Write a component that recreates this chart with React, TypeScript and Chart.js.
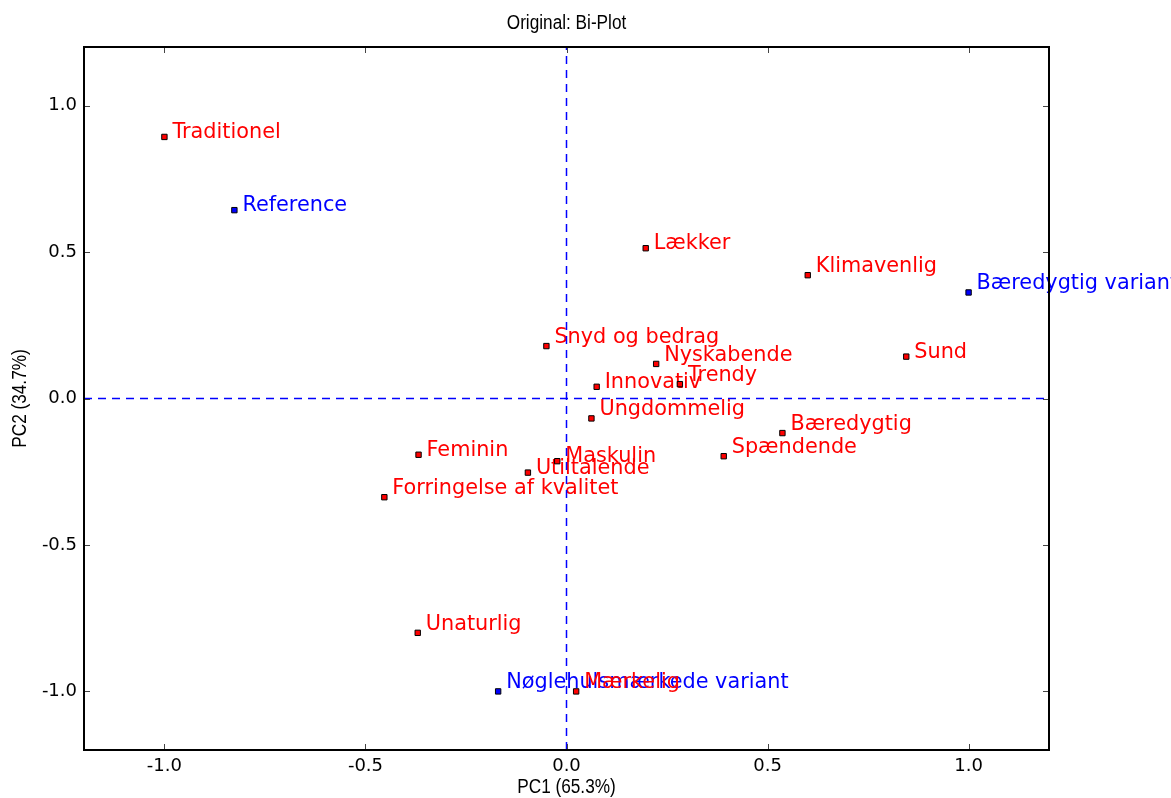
import React, { useEffect, useRef } from 'react';
import { Chart, registerables } from 'chart.js';

Chart.register(...registerables);

// Attribute loadings (red)
const attributeLabels = [
  'Traditionel',
  'Lækker',
  'Klimavenlig',
  'Snyd og bedrag',
  'Nyskabende',
  'Sund',
  'Innovativ',
  'Trendy',
  'Ungdommelig',
  'Bæredygtig',
  'Spændende',
  'Feminin',
  'Maskulin',
  'Utiltalende',
  'Forringelse af kvalitet',
  'Unaturlig',
  'Mærkelig',
];
const attributeX = [-1.0, 0.197, 0.6, -0.05, 0.223, 0.845, 0.075, 0.282, 0.062, 0.537, 0.391, -0.368, -0.023, -0.096, -0.453, -0.37, 0.024];
const attributeY = [0.893, 0.513, 0.421, 0.179, 0.118, 0.143, 0.04, 0.049, -0.068, -0.118, -0.197, -0.192, -0.214, -0.253, -0.337, -0.8, -1.0];

// Product scores (blue)
const productLabels = ['Reference', 'Bæredygtig variant', 'Nøglehulsmærkede variant'];
const productX = [-0.826, 1.0, -0.17];
const productY = [0.643, 0.362, -1.0];

const xTicks = [-1.0, -0.5, 0.0, 0.5, 1.0];
const yTicks = [-1.0, -0.5, 0.0, 0.5, 1.0];
const axisMin = -1.2;
const axisMax = 1.2;

const chartTitle = 'Original: Bi-Plot';
const xTitle = 'PC1 (65.3%)';
const yTitle = 'PC2 (34.7%)';

const RED = '#ff0000';
const BLUE = '#0000ff';
const NARROW = '"Liberation Sans", Arial, sans-serif';
const NARROW_SCALE = 0.86;
const DEJAVU = '"DejaVu Sans", sans-serif';

const labelPlugin = {
  id: 'pointLabels',
  beforeDatasetsDraw(chart: any) {
    const ctx = chart.ctx;
    ctx.save();
    ctx.font = `20.8px ${DEJAVU}`;
    ctx.textAlign = 'left';
    ctx.textBaseline = 'alphabetic';
    chart.data.datasets.forEach((ds: any, i: number) => {
      const labels: string[] | undefined = ds.pointLabels;
      if (!labels) return;
      const meta = chart.getDatasetMeta(i);
      ctx.fillStyle = ds.labelColor;
      meta.data.forEach((el: any, j: number) => {
        const t = labels[j];
        const m = ctx.measureText(t);
        ctx.fillText(t, el.x + 8, el.y - Math.max(0, m.actualBoundingBoxDescent) + 1);
      });
    });
    ctx.restore();
  },
};

function narrowText(ctx: any, text: string, x: number, y: number, rotate: boolean) {
  ctx.save();
  ctx.translate(x, y);
  if (rotate) ctx.rotate(-Math.PI / 2);
  ctx.scale(NARROW_SCALE, 1);
  ctx.font = `20px ${NARROW}`;
  ctx.textAlign = 'center';
  ctx.textBaseline = 'alphabetic';
  ctx.fillStyle = '#000';
  ctx.fillText(text, 0, 0);
  ctx.restore();
}

const framePlugin = {
  id: 'frame',
  afterDraw(chart: any) {
    const ctx = chart.ctx;
    const a = chart.chartArea;
    const xs = chart.scales.x;
    const ys = chart.scales.y;
    ctx.save();
    ctx.strokeStyle = '#444';
    ctx.lineWidth = 1;
    const tl = 6;
    ctx.beginPath();
    xs.ticks.forEach((t: any) => {
      const px = Math.round(xs.getPixelForValue(t.value)) + 0.5;
      ctx.moveTo(px, a.bottom);
      ctx.lineTo(px, a.bottom - tl);
      ctx.moveTo(px, a.top);
      ctx.lineTo(px, a.top + tl);
    });
    ys.ticks.forEach((t: any) => {
      const py = Math.round(ys.getPixelForValue(t.value)) + 0.5;
      ctx.moveTo(a.left, py);
      ctx.lineTo(a.left + tl, py);
      ctx.moveTo(a.right, py);
      ctx.lineTo(a.right - tl, py);
    });
    ctx.stroke();
    ctx.strokeStyle = '#000';
    ctx.lineWidth = 2;
    ctx.strokeRect(a.left, a.top, a.right - a.left, a.bottom - a.top);
    ctx.restore();
    const cx = (a.left + a.right) / 2;
    const cy = (a.top + a.bottom) / 2;
    narrowText(ctx, chartTitle, cx, 29, false);
    narrowText(ctx, xTitle, cx, 793, false);
    narrowText(ctx, yTitle, 26, cy, true);
  },
};

export default function App() {
  const canvasRef = useRef<HTMLCanvasElement | null>(null);

  useEffect(() => {
    document.body.style.margin = '0';
    const canvas = canvasRef.current;
    if (!canvas) return;
    const chart = new Chart(canvas, {
      type: 'scatter',
      data: {
        datasets: [
          {
            type: 'line',
            data: [
              { x: 0, y: axisMin },
              { x: 0, y: axisMax },
            ],
            borderColor: BLUE,
            borderWidth: 1.5,
            borderDash: [8, 6],
            pointRadius: 0,
            fill: false,
          } as any,
          {
            type: 'line',
            data: [
              { x: axisMin, y: 0 },
              { x: axisMax, y: 0 },
            ],
            borderColor: BLUE,
            borderWidth: 1.5,
            borderDash: [8, 6],
            pointRadius: 0,
            fill: false,
          } as any,
          {
            data: productX.map((x, i) => ({ x, y: productY[i] })),
            pointStyle: 'rect',
            pointRadius: 3.8,
            backgroundColor: BLUE,
            borderColor: '#000',
            borderWidth: 1,
            pointLabels: productLabels,
            labelColor: BLUE,
          } as any,
          {
            data: attributeX.map((x, i) => ({ x, y: attributeY[i] })),
            pointStyle: 'rect',
            pointRadius: 3.8,
            backgroundColor: RED,
            borderColor: '#000',
            borderWidth: 1,
            pointLabels: attributeLabels,
            labelColor: RED,
          } as any,
        ],
      },
      options: {
        responsive: false,
        animation: false,
        devicePixelRatio: 1,
        layout: { padding: { top: 47, right: 122, left: 0, bottom: 0 } },
        plugins: {
          legend: { display: false },
          tooltip: { enabled: false },
          title: { display: false },
        },
        scales: {
          x: {
            type: 'linear',
            min: axisMin,
            max: axisMax,
            grid: { display: false, drawTicks: false },
            border: { display: false },
            afterBuildTicks: (s: any) => {
              s.ticks = xTicks.map((v) => ({ value: v }));
            },
            afterFit: (s: any) => {
              s.height = 48;
            },
            ticks: {
              font: { family: DEJAVU, size: 18 },
              color: '#000',
              padding: 6,
              maxRotation: 0,
              autoSkip: false,
              callback: (v: any) => Number(v).toFixed(1),
            },
            title: { display: false },
          },
          y: {
            type: 'linear',
            min: axisMin,
            max: axisMax,
            grid: { display: false, drawTicks: false },
            border: { display: false },
            afterBuildTicks: (s: any) => {
              s.ticks = yTicks.map((v) => ({ value: v }));
            },
            afterFit: (s: any) => {
              s.width = 84;
            },
            ticks: {
              font: { family: DEJAVU, size: 18 },
              color: '#000',
              padding: 7,
              autoSkip: false,
              callback: (v: any) => Number(v).toFixed(1),
            },
            title: { display: false },
          },
        },
      } as any,
      plugins: [labelPlugin, framePlugin],
    });
    return () => {
      chart.destroy();
    };
  }, []);

  return (
    <div style={{ width: 1171, height: 798 }}>
      <canvas ref={canvasRef} width={1171} height={798} style={{ display: 'block', width: 1171, height: 798 }} />
    </div>
  );
}
